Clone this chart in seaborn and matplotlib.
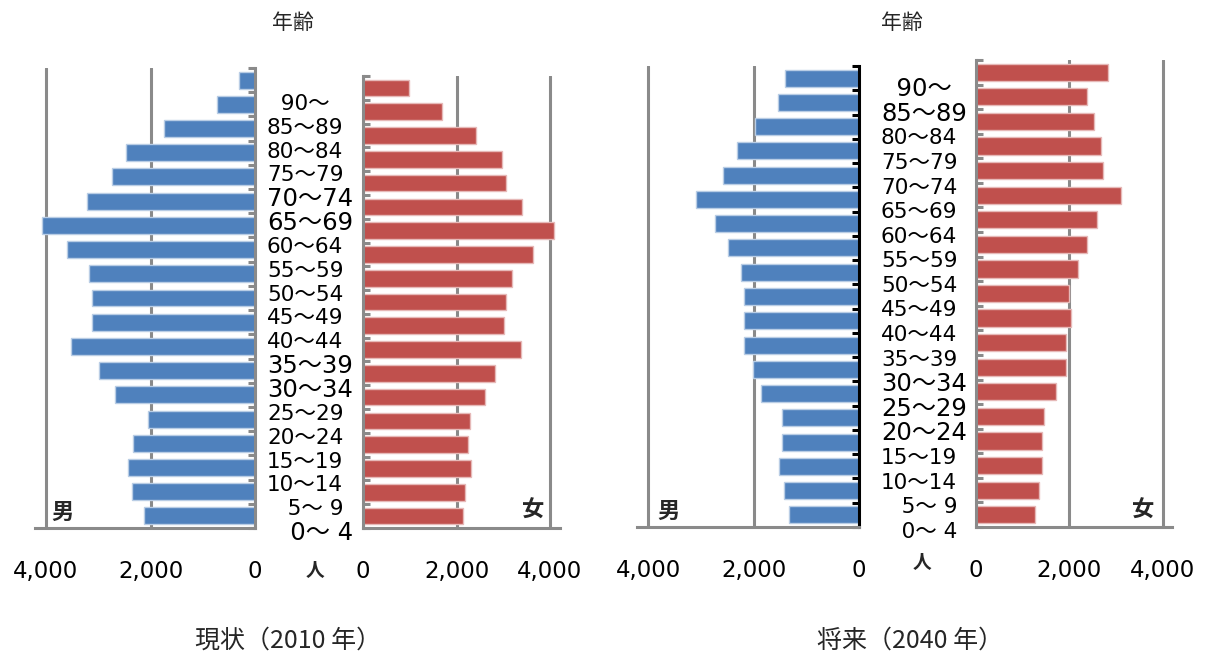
import numpy as np
import pandas as pd
import matplotlib
matplotlib.use("Agg")
import matplotlib.pyplot as plt
import seaborn as sns

# Age groups, oldest first (top of the pyramid)
AGE_GROUPS = ["90～", "85～89", "80～84", "75～79", "70～74", "65～69", "60～64",
              "55～59", "50～54", "45～49", "40～44", "35～39", "30～34", "25～29",
              "20～24", "15～19", "10～14", "5～ 9", "0～ 4"]

# Age-axis text as shown next to each pyramid
AGE_LABELS = ["  90～", "85～89", "80～84", "75～79", "70～74", "65～69", "60～64",
              "55～59", "50～54", "45～49", "40～44", "35～39", "30～34", "25～29",
              "20～24", "15～19", "10～14", "   5～ 9", "   0～ 4"]

# Population (persons), 2010
MALE_2010 = [300, 720, 1740, 2460, 2740, 3220, 4080, 3600, 3180, 3120,
             3120, 3530, 2980, 2670, 2050, 2330, 2430, 2360, 2120]
FEMALE_2010 = [990, 1680, 2410, 2980, 3060, 3400, 4090, 3640, 3180, 3060,
               3020, 3370, 2820, 2600, 2290, 2250, 2320, 2180, 2140]

# Population (persons), 2040 projection
MALE_2040 = [1400, 1530, 1980, 2320, 2590, 3100, 2730, 2490, 2250, 2180,
             2180, 2180, 2010, 1870, 1460, 1460, 1510, 1430, 1330]
FEMALE_2040 = [2830, 2370, 2520, 2670, 2720, 3100, 2600, 2370, 2180, 1990,
               2030, 1920, 1920, 1720, 1450, 1420, 1420, 1340, 1270]

X_TICKS = [0, 2000, 4000]
CAPTIONS = ["現状（2010 年）", "将来（2040 年）"]

BLUE = "#4F81BD"
RED = "#C0504D"
GRID = "#8a8a8a"

sns.set_style("white")
plt.rcParams["font.family"] = ["DejaVu Sans", "Noto Sans CJK JP"]

W, H = 1207, 663
fig = plt.figure(figsize=(W / 100, H / 100), dpi=100)


def px_axes(x0, y0, x1, y1):
    return fig.add_axes([x0 / W, 1 - y1 / H, (x1 - x0) / W, (y1 - y0) / H])


n = len(AGE_GROUPS)
LW = 2.2


def pyramid_side(ax, values, color, edge, male, spine_color):
    df = pd.DataFrame({"age": AGE_GROUPS, "pop": values})
    sns.barplot(data=df, x="pop", y="age", order=AGE_GROUPS, orient="h",
                color=color, saturation=1, width=0.7, edgecolor=edge,
                linewidth=1.0, ax=ax)
    ax.set_ylim(n - 0.5, -0.5)
    ax.set_xlabel("")
    ax.set_ylabel("")
    ax.set_axisbelow(True)
    ax.set_xticks(X_TICKS)
    ax.set_xticklabels([f"{v:,}" for v in X_TICKS])
    ax.tick_params(axis="x", length=0, pad=23, labelsize=16.5, labelcolor="black")
    ax.grid(axis="x", color=GRID, linewidth=LW)
    ax.grid(axis="y", visible=False)
    ax.set_yticks(np.arange(n + 1) - 0.5)
    ax.set_yticklabels([])
    for s in ax.spines.values():
        s.set_visible(False)
    ax.spines["bottom"].set_visible(True)
    ax.spines["bottom"].set_color(GRID)
    ax.spines["bottom"].set_linewidth(LW)
    side = "right" if male else "left"
    ax.spines[side].set_visible(True)
    ax.spines[side].set_color(spine_color)
    ax.spines[side].set_linewidth(LW)
    if male:
        ax.yaxis.tick_right()
    else:
        ax.yaxis.tick_left()
    ax.tick_params(axis="y", direction="in", length=5, width=LW, color=spine_color)


def age_column(x0, y0, x1, y1, big):
    ax = px_axes(x0, y0, x1, y1)
    ax.set_xlim(0, 1)
    ax.set_ylim(n - 0.5, -0.5)
    ax.axis("off")
    for i, lab in enumerate(AGE_LABELS):
        size = 17.5 if AGE_GROUPS[i] in big else 15.5
        ax.text(0, i, lab, ha="left", va="center", fontsize=size, color="black")


# ---- 2010 ----
ax_m1 = px_axes(35, 68, 255, 528)
pyramid_side(ax_m1, MALE_2010, BLUE, "#b9cde5", True, GRID)
ax_m1.set_xlim((255 - 35) / 104.5 * 2000, 0)

ax_f1 = px_axes(363, 76, 560, 528)
pyramid_side(ax_f1, FEMALE_2010, RED, "#e6b9b8", False, GRID)
ax_f1.set_xlim(0, (560 - 363) / 93.5 * 2000)

age_column(267, 92, 350, 545, {"70～74", "65～69", "35～39", "30～34", "0～ 4"})

# ---- 2040 ----
ax_m2 = px_axes(637, 66, 859, 527)
pyramid_side(ax_m2, MALE_2040, BLUE, "#b9cde5", True, "black")
ax_m2.set_xlim((859 - 637) / 105.3 * 2000, 0)

ax_f2 = px_axes(976, 60, 1172, 527)
pyramid_side(ax_f2, FEMALE_2040, RED, "#e6b9b8", False, GRID)
ax_f2.set_xlim(0, (1172 - 976) / 93.3 * 2000)

age_column(881, 77, 960, 544, {"90～", "85～89", "30～34", "25～29", "20～24"})

cjk = "Noto Sans CJK JP"


def ftext(x, y, s, **kw):
    fig.text(x / W, 1 - y / H, s, ha="center", va="center", family=cjk, **kw)


for x in (293, 902):
    ftext(x, 23, "年齢", fontsize=15)

ftext(62, 512, "男", fontsize=16, fontweight="bold")
ftext(533, 510, "女", fontsize=16, fontweight="bold")
ftext(669, 511, "男", fontsize=16, fontweight="bold")
ftext(1143, 510, "女", fontsize=16, fontweight="bold")

ftext(315, 570, "人", fontsize=13.5, fontweight="bold")
ftext(922, 563, "人", fontsize=13.5, fontweight="bold")

ftext(288, 641, CAPTIONS[0], fontsize=18)
ftext(910, 641, CAPTIONS[1], fontsize=18)

fig.savefig("out.png", dpi=100)
